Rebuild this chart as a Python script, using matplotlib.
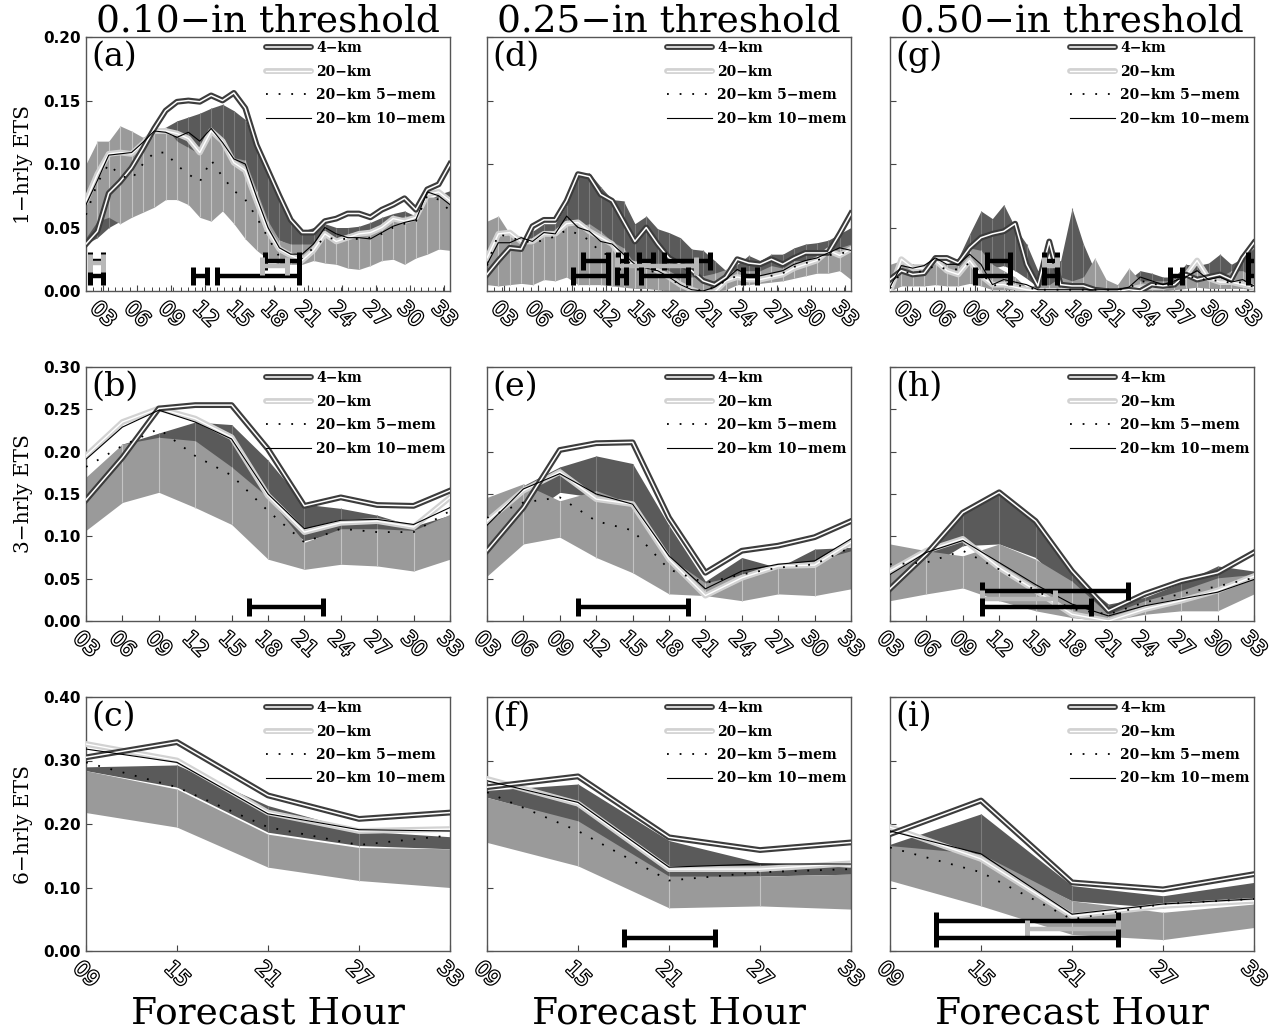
import numpy as np
import matplotlib
matplotlib.use('Agg')
import matplotlib.pyplot as plt
import matplotlib.patheffects as pe
from matplotlib.ticker import FixedLocator, FormatStrFormatter
from matplotlib.legend_handler import HandlerTuple
from matplotlib.lines import Line2D

# ---------------- x positions ----------------
HOURS_1H = np.arange(1.5, 34.0, 1.0)          # 33 hourly points
HOURS_3H = [3, 6, 9, 12, 15, 18, 21, 24, 27, 30, 33]
HOURS_6H = [9, 15, 21, 27, 33]

COL_TITLES = ['0.10\u2212in threshold', '0.25\u2212in threshold', '0.50\u2212in threshold']
ROW_LABELS = ['1\u2212hrly ETS', '3\u2212hrly ETS', '6\u2212hrly ETS']
LEGEND_LABELS = ['4\u2212km', '20\u2212km', '20\u2212km 5\u2212mem', '20\u2212km 10\u2212mem']
LETTERS = [['a', 'd', 'g'], ['b', 'e', 'h'], ['c', 'f', 'i']]

# ---------------- (a) 1-h, 0.10 in ----------------
A_4KM = [0.037, 0.047, 0.077, 0.086, 0.097, 0.112, 0.128, 0.142, 0.149, 0.150, 0.149, 0.154, 0.150, 0.156, 0.144, 0.115, 0.095,
         0.075, 0.056, 0.046, 0.046, 0.055, 0.057, 0.061, 0.061, 0.058, 0.064, 0.068, 0.073, 0.064, 0.080, 0.084, 0.100]
A_20KM = [0.071, 0.092, 0.108, 0.109, 0.108, 0.116, 0.126, 0.126, 0.124, 0.120, 0.109, 0.126, 0.118, 0.101, 0.095, 0.071, 0.047,
          0.033, 0.028, 0.024, 0.032, 0.045, 0.039, 0.042, 0.045, 0.046, 0.050, 0.057, 0.055, 0.058, 0.076, 0.078, 0.071]
A_10MEM = [0.068, 0.087, 0.107, 0.108, 0.109, 0.117, 0.126, 0.125, 0.121, 0.125, 0.118, 0.128, 0.117, 0.104, 0.100, 0.074, 0.050,
           0.034, 0.029, 0.029, 0.037, 0.050, 0.045, 0.042, 0.042, 0.041, 0.046, 0.051, 0.054, 0.056, 0.078, 0.075, 0.068]
A_5MEM = [0.060, 0.085, 0.100, 0.091, 0.088, 0.100, 0.109, 0.109, 0.099, 0.092, 0.086, 0.103, 0.090, 0.079, 0.072, 0.058, 0.042,
          0.027, 0.024, 0.026, 0.034, 0.042, 0.041, 0.041, 0.041, 0.042, 0.045, 0.050, 0.053, 0.055, 0.075, 0.072, 0.063]
A_DARK_HI = [0.058, 0.068, 0.082, 0.089, 0.097, 0.111, 0.118, 0.129, 0.134, 0.137, 0.140, 0.144, 0.147, 0.142, 0.135, 0.115, 0.092,
             0.074, 0.055, 0.047, 0.050, 0.053, 0.050, 0.050, 0.051, 0.054, 0.058, 0.061, 0.063, 0.059, 0.071, 0.076, 0.079]
A_DARK_LO = [0.037, 0.042, 0.050, 0.055, 0.063, 0.071, 0.079, 0.089, 0.097, 0.100, 0.100, 0.103, 0.108, 0.103, 0.095, 0.075, 0.052,
             0.040, 0.036, 0.034, 0.037, 0.040, 0.038, 0.037, 0.037, 0.038, 0.041, 0.045, 0.047, 0.045, 0.053, 0.058, 0.058]
A_LITE_HI = [0.100, 0.118, 0.118, 0.130, 0.126, 0.121, 0.126, 0.129, 0.118, 0.113, 0.108, 0.129, 0.118, 0.105, 0.103, 0.079, 0.055,
             0.040, 0.037, 0.037, 0.037, 0.047, 0.042, 0.045, 0.047, 0.047, 0.050, 0.055, 0.059, 0.059, 0.074, 0.074, 0.071]
A_LITE_LO = [0.042, 0.055, 0.058, 0.053, 0.058, 0.062, 0.066, 0.072, 0.072, 0.068, 0.058, 0.055, 0.063, 0.053, 0.041, 0.032, 0.025,
             0.021, 0.021, 0.021, 0.024, 0.022, 0.021, 0.018, 0.017, 0.020, 0.024, 0.025, 0.021, 0.026, 0.029, 0.033, 0.032]
A_SIG = [(1.85, 3.0, 0.012, 'k'), (10.9, 12.1, 0.012, 'k'), (13.0, 20.2, 0.012, 'k'),
         (1.85, 3.0, 0.024, 'k'), (1.85, 3.0, 0.022, 'g'), (17.25, 20.2, 0.024, 'k'), (16.95, 19.15, 0.020, 'g')]

# ---------------- (d) 1-h, 0.25 in ----------------
D_4KM = [0.013, 0.024, 0.034, 0.033, 0.051, 0.056, 0.056, 0.071, 0.092, 0.090, 0.076, 0.071, 0.055, 0.039, 0.050, 0.037, 0.026,
         0.021, 0.016, 0.008, 0.005, 0.011, 0.025, 0.022, 0.021, 0.025, 0.021, 0.026, 0.030, 0.030, 0.030, 0.045, 0.061]
D_20KM = [0.026, 0.045, 0.046, 0.039, 0.039, 0.045, 0.045, 0.053, 0.054, 0.047, 0.042, 0.037, 0.024, 0.021, 0.021, 0.016, 0.011,
          0.005, 0.001, -0.002, -0.001, 0.008, 0.011, 0.009, 0.009, 0.011, 0.013, 0.018, 0.021, 0.024, 0.032, 0.028, 0.033]
D_10MEM = [0.021, 0.038, 0.038, 0.042, 0.039, 0.046, 0.045, 0.059, 0.050, 0.047, 0.039, 0.037, 0.029, 0.021, 0.018, 0.016, 0.011,
           0.005, 0.001, 0.000, 0.003, 0.009, 0.017, 0.012, 0.012, 0.014, 0.016, 0.021, 0.024, 0.026, 0.030, 0.034, 0.032]
D_5MEM = [0.020, 0.045, 0.042, 0.040, 0.038, 0.040, 0.043, 0.048, 0.045, 0.040, 0.030, 0.028, 0.025, 0.020, 0.017, 0.014, 0.010,
          0.005, 0.002, 0.000, 0.003, 0.008, 0.012, 0.011, 0.011, 0.012, 0.014, 0.019, 0.022, 0.024, 0.028, 0.030, 0.030]
D_DARK_HI = [0.021, 0.032, 0.037, 0.040, 0.047, 0.053, 0.053, 0.068, 0.092, 0.093, 0.082, 0.072, 0.071, 0.053, 0.059, 0.049, 0.046,
             0.042, 0.033, 0.032, 0.024, 0.016, 0.021, 0.028, 0.024, 0.029, 0.029, 0.034, 0.037, 0.038, 0.040, 0.045, 0.050]
D_DARK_LO = [0.005, 0.010, 0.014, 0.016, 0.020, 0.022, 0.024, 0.030, 0.045, 0.048, 0.042, 0.036, 0.030, 0.022, 0.020, 0.016, 0.010,
             0.006, 0.004, 0.003, 0.002, 0.004, 0.008, 0.010, 0.010, 0.012, 0.013, 0.015, 0.017, 0.018, 0.020, 0.022, 0.025]
D_LITE_HI = [0.055, 0.059, 0.045, 0.043, 0.037, 0.047, 0.043, 0.053, 0.051, 0.053, 0.047, 0.039, 0.034, 0.021, 0.021, 0.021, 0.016,
             0.011, 0.011, 0.012, 0.014, 0.017, 0.016, 0.016, 0.016, 0.020, 0.018, 0.024, 0.024, 0.028, 0.029, 0.034, 0.037]
D_LITE_LO = [0.005, 0.004, 0.005, 0.006, 0.005, 0.009, 0.008, 0.011, 0.005, 0.005, 0.005, 0.004, 0.003, 0.002, 0.002, 0.001, 0.000,
             0.000, 0.000, 0.000, 0.000, 0.001, 0.005, 0.005, 0.006, 0.007, 0.008, 0.010, 0.012, 0.014, 0.014, 0.016, 0.009]
D_SIG = [(9.9, 12.1, 0.024, 'k'), (13.0, 13.7, 0.024, 'k'), (14.9, 16.1, 0.024, 'k'), (17.1, 21.1, 0.024, 'k'),
         (12.9, 19.9, 0.020, 'g'), (9.05, 12.1, 0.012, 'k'), (12.9, 13.7, 0.012, 'k'), (15.0, 19.2, 0.012, 'k'),
         (24.0, 25.2, 0.012, 'k')]

# ---------------- (g) 1-h, 0.50 in ----------------
G_4KM = [0.009, 0.016, 0.013, 0.014, 0.026, 0.026, 0.022, 0.034, 0.042, 0.045, 0.047, 0.053, 0.021, 0.004, 0.039, 0.005, 0.004,
         0.004, 0.001, 0.000, 0.000, 0.001, 0.000, 0.005, 0.004, 0.005, 0.013, 0.009, 0.011, 0.013, 0.009, 0.026, 0.038]
G_20KM = [0.000, 0.025, 0.018, 0.018, 0.024, 0.016, 0.013, 0.024, 0.012, 0.005, 0.005, 0.003, 0.001, 0.000, 0.000, 0.000, 0.000,
          0.000, 0.000, 0.000, 0.000, 0.001, 0.003, 0.003, 0.003, 0.006, 0.012, 0.024, 0.010, 0.007, 0.007, 0.005, 0.003]
G_10MEM = [0.003, 0.020, 0.018, 0.020, 0.026, 0.021, 0.021, 0.029, 0.021, 0.005, 0.009, 0.007, 0.005, 0.001, 0.001, 0.001, 0.001,
           0.001, 0.001, 0.001, 0.001, 0.003, 0.011, 0.008, 0.005, 0.008, 0.011, 0.016, 0.009, 0.011, 0.007, 0.009, 0.004]
G_5MEM = [0.002, 0.015, 0.014, 0.016, 0.020, 0.017, 0.017, 0.022, 0.015, 0.004, 0.006, 0.005, 0.003, 0.001, 0.001, 0.001, 0.001,
          0.001, 0.001, 0.001, 0.001, 0.002, 0.008, 0.006, 0.004, 0.006, 0.009, 0.012, 0.007, 0.009, 0.006, 0.007, 0.003]
G_DARK_HI = [0.016, 0.021, 0.021, 0.021, 0.024, 0.021, 0.026, 0.045, 0.063, 0.057, 0.068, 0.050, 0.037, 0.016, 0.021, 0.024, 0.065,
             0.037, 0.016, 0.005, 0.005, 0.009, 0.016, 0.014, 0.011, 0.011, 0.021, 0.020, 0.022, 0.029, 0.021, 0.026, 0.034]
G_DARK_LO = [0.003, 0.005, 0.006, 0.006, 0.008, 0.008, 0.009, 0.012, 0.016, 0.018, 0.020, 0.016, 0.010, 0.003, 0.004, 0.003, 0.005,
             0.004, 0.002, 0.001, 0.001, 0.001, 0.002, 0.002, 0.002, 0.002, 0.004, 0.004, 0.004, 0.005, 0.004, 0.005, 0.008]
G_LITE_HI = [0.021, 0.024, 0.021, 0.021, 0.024, 0.021, 0.024, 0.034, 0.032, 0.021, 0.016, 0.011, 0.003, 0.005, 0.005, 0.011, 0.008,
             0.011, 0.026, 0.009, 0.005, 0.018, 0.008, 0.008, 0.008, 0.008, 0.011, 0.016, 0.013, 0.011, 0.016, 0.016, 0.011]
G_LITE_LO = [0.000, 0.004, 0.004, 0.004, 0.005, 0.004, 0.004, 0.006, 0.004, 0.001, 0.001, 0.001, 0.000, 0.000, 0.000, 0.000, 0.000,
             0.000, 0.001, 0.000, 0.000, 0.001, 0.000, 0.000, 0.000, 0.001, 0.002, 0.003, 0.002, 0.002, 0.002, 0.002, 0.001]
G_SIG = [(10.06, 12.06, 0.024, 'k'), (15.0, 16.16, 0.024, 'k'), (15.0, 16.16, 0.020, 'g'), (33.0, 34.0, 0.024, 'k'),
         (8.98, 12.06, 0.012, 'k'), (15.0, 16.16, 0.012, 'k'), (26.1, 27.2, 0.012, 'k'), (33.0, 34.0, 0.012, 'k')]

# ---------------- (b) 3-h, 0.10 in ----------------
B_4KM = [0.143, 0.193, 0.251, 0.255, 0.255, 0.203, 0.136, 0.146, 0.137, 0.136, 0.154]
B_20KM = [0.195, 0.235, 0.251, 0.239, 0.217, 0.148, 0.105, 0.116, 0.118, 0.111, 0.146]
B_10MEM = [0.191, 0.229, 0.249, 0.235, 0.215, 0.150, 0.109, 0.119, 0.120, 0.114, 0.134]
B_5MEM = [0.182, 0.207, 0.227, 0.195, 0.172, 0.130, 0.093, 0.109, 0.105, 0.105, 0.130]
B_DARK_HI = [0.166, 0.209, 0.222, 0.235, 0.232, 0.190, 0.138, 0.133, 0.125, 0.112, 0.125]
B_DARK_LO = [0.108, 0.150, 0.195, 0.190, 0.160, 0.125, 0.095, 0.105, 0.102, 0.100, 0.118]
B_LITE_HI = [0.170, 0.209, 0.217, 0.213, 0.182, 0.146, 0.093, 0.109, 0.109, 0.107, 0.126]
B_LITE_LO = [0.107, 0.140, 0.152, 0.134, 0.114, 0.073, 0.061, 0.067, 0.065, 0.059, 0.073]
B_SIG = [(16.46, 22.5, 0.016, 'k')]

# ---------------- (e) 3-h, 0.25 in ----------------
E_4KM = [0.083, 0.134, 0.202, 0.210, 0.211, 0.122, 0.057, 0.083, 0.089, 0.099, 0.118]
E_20KM = [0.118, 0.154, 0.176, 0.144, 0.138, 0.073, 0.030, 0.051, 0.065, 0.066, 0.093]
E_10MEM = [0.113, 0.156, 0.174, 0.150, 0.138, 0.077, 0.038, 0.059, 0.067, 0.071, 0.097]
E_5MEM = [0.122, 0.140, 0.146, 0.118, 0.107, 0.061, 0.045, 0.055, 0.063, 0.067, 0.087]
E_DARK_HI = [0.140, 0.160, 0.182, 0.195, 0.186, 0.113, 0.047, 0.075, 0.063, 0.085, 0.087]
E_DARK_LO = [0.090, 0.122, 0.152, 0.146, 0.118, 0.067, 0.036, 0.047, 0.059, 0.067, 0.079]
E_LITE_HI = [0.146, 0.162, 0.142, 0.154, 0.138, 0.075, 0.045, 0.055, 0.067, 0.071, 0.083]
E_LITE_LO = [0.053, 0.091, 0.099, 0.075, 0.057, 0.032, 0.030, 0.024, 0.032, 0.030, 0.038]
E_SIG = [(10.5, 19.55, 0.016, 'k')]

# ---------------- (h) 3-h, 0.50 in ----------------
H_4KM = [0.038, 0.079, 0.128, 0.152, 0.118, 0.059, 0.012, 0.032, 0.047, 0.057, 0.081]
H_20KM = [0.059, 0.083, 0.097, 0.063, 0.036, 0.008, 0.000, 0.014, 0.024, 0.036, 0.053]
H_10MEM = [0.055, 0.081, 0.095, 0.069, 0.043, 0.020, 0.006, 0.018, 0.026, 0.034, 0.049]
H_5MEM = [0.067, 0.069, 0.083, 0.061, 0.036, 0.014, 0.008, 0.022, 0.032, 0.041, 0.051]
H_DARK_HI = [0.040, 0.079, 0.126, 0.150, 0.116, 0.055, 0.020, 0.028, 0.045, 0.065, 0.059]
H_DARK_LO = [0.032, 0.063, 0.089, 0.091, 0.075, 0.032, 0.006, 0.018, 0.032, 0.041, 0.047]
H_LITE_HI = [0.091, 0.083, 0.077, 0.091, 0.073, 0.047, 0.008, 0.024, 0.036, 0.051, 0.055]
H_LITE_LO = [0.024, 0.032, 0.039, 0.024, 0.012, 0.004, 0.000, 0.008, 0.012, 0.012, 0.032]
H_SIG = [(10.55, 22.64, 0.036, 'k'), (10.55, 16.6, 0.026, 'g'), (10.55, 19.6, 0.016, 'k')]

# ---------------- (c) 6-h, 0.10 in ----------------
C_4KM = [0.305, 0.329, 0.245, 0.208, 0.218]
C_20KM = [0.326, 0.300, 0.218, 0.189, 0.192]
C_10MEM = [0.318, 0.297, 0.216, 0.191, 0.189]
C_5MEM = [0.297, 0.258, 0.195, 0.167, 0.182]
C_DARK_HI = [0.290, 0.293, 0.229, 0.189, 0.180]
C_DARK_LO = [0.284, 0.258, 0.187, 0.166, 0.161]
C_LITE_HI = [0.284, 0.255, 0.184, 0.163, 0.161]
C_LITE_LO = [0.218, 0.195, 0.132, 0.111, 0.100]
C_SIG = []

# ---------------- (f) 6-h, 0.25 in ----------------
F_4KM = [0.258, 0.275, 0.179, 0.159, 0.171]
F_20KM = [0.271, 0.232, 0.129, 0.129, 0.138]
F_10MEM = [0.268, 0.234, 0.132, 0.137, 0.137]
F_5MEM = [0.250, 0.189, 0.111, 0.124, 0.129]
F_DARK_HI = [0.253, 0.263, 0.174, 0.139, 0.132]
F_DARK_LO = [0.242, 0.203, 0.116, 0.118, 0.121]
F_LITE_HI = [0.242, 0.205, 0.118, 0.118, 0.121]
F_LITE_LO = [0.171, 0.134, 0.068, 0.071, 0.066]
F_SIG = [(18.0, 24.06, 0.021, 'k')]

# ---------------- (i) 6-h, 0.50 in ----------------
I_4KM = [0.184, 0.237, 0.108, 0.097, 0.121]
I_20KM = [0.195, 0.145, 0.055, 0.071, 0.079]
I_10MEM = [0.189, 0.153, 0.058, 0.074, 0.082]
I_5MEM = [0.163, 0.124, 0.050, 0.074, 0.082]
I_DARK_HI = [0.168, 0.216, 0.103, 0.087, 0.108]
I_DARK_LO = [0.163, 0.147, 0.079, 0.068, 0.082]
I_LITE_HI = [0.166, 0.153, 0.079, 0.061, 0.074]
I_LITE_LO = [0.111, 0.071, 0.026, 0.018, 0.037]
I_SIG = [(12.0, 24.05, 0.047, 'k'), (18.0, 24.05, 0.034, 'g'), (12.0, 24.05, 0.021, 'k')]

PANELS = [
    [(A_4KM, A_20KM, A_5MEM, A_10MEM, A_DARK_HI, A_DARK_LO, A_LITE_HI, A_LITE_LO, A_SIG),
     (D_4KM, D_20KM, D_5MEM, D_10MEM, D_DARK_HI, D_DARK_LO, D_LITE_HI, D_LITE_LO, D_SIG),
     (G_4KM, G_20KM, G_5MEM, G_10MEM, G_DARK_HI, G_DARK_LO, G_LITE_HI, G_LITE_LO, G_SIG)],
    [(B_4KM, B_20KM, B_5MEM, B_10MEM, B_DARK_HI, B_DARK_LO, B_LITE_HI, B_LITE_LO, B_SIG),
     (E_4KM, E_20KM, E_5MEM, E_10MEM, E_DARK_HI, E_DARK_LO, E_LITE_HI, E_LITE_LO, E_SIG),
     (H_4KM, H_20KM, H_5MEM, H_10MEM, H_DARK_HI, H_DARK_LO, H_LITE_HI, H_LITE_LO, H_SIG)],
    [(C_4KM, C_20KM, C_5MEM, C_10MEM, C_DARK_HI, C_DARK_LO, C_LITE_HI, C_LITE_LO, C_SIG),
     (F_4KM, F_20KM, F_5MEM, F_10MEM, F_DARK_HI, F_DARK_LO, F_LITE_HI, F_LITE_LO, F_SIG),
     (I_4KM, I_20KM, I_5MEM, I_10MEM, I_DARK_HI, I_DARK_LO, I_LITE_HI, I_LITE_LO, I_SIG)],
]

ROW_X = [HOURS_1H, HOURS_3H, HOURS_6H]
ROW_XLIM = [(1.5, 33.5), (3, 33), (9, 33)]
ROW_XTICKS = [HOURS_3H, HOURS_3H, HOURS_6H]
ROW_YTICKS = [[0.0, 0.05, 0.10, 0.15, 0.20],
              [0.0, 0.05, 0.10, 0.15, 0.20, 0.25, 0.30],
              [0.0, 0.10, 0.20, 0.30, 0.40]]

# ---------------- style ----------------
DARK = '#5a5a5a'
DARK_EDGE = '#7c7c7c'
LIGHT = '#9a9a9a'
LIGHT_EDGE = '#c4c4c4'
C4 = '#3c3c3c'
C20 = '#d2d2d2'
SIG_GRAY = '#b8b8b8'
SERIF = 'DejaVu Serif'
HOLLOW = [pe.withStroke(linewidth=1.8, foreground='black')]

W, H = 1274, 1032
COL_LEFT = [86, 487, 890]
ROW_TOP = [37, 367, 697]
AX_W, AX_H = 364, 254

fig = plt.figure(figsize=(W / 100, H / 100), dpi=100)

for r in range(3):
    x = np.asarray(ROW_X[r], dtype=float)
    for c in range(3):
        s4, s20, s5, s10, dhi, dlo, lhi, llo, sig = PANELS[r][c]
        ax = fig.add_axes([COL_LEFT[c] / W, 1 - (ROW_TOP[r] + AX_H) / H, AX_W / W, AX_H / H])
        dhi, dlo, lhi, llo = map(np.asarray, (dhi, dlo, lhi, llo))

        ax.fill_between(x, dlo, dhi, color=DARK, lw=0, zorder=1)
        ax.vlines(x[1:-1], dlo[1:-1], dhi[1:-1], color=DARK_EDGE, lw=0.8, zorder=1.1)
        ax.fill_between(x, llo, lhi, color=LIGHT, lw=0, zorder=2)
        ax.vlines(x[1:-1], llo[1:-1], lhi[1:-1], color=LIGHT_EDGE, lw=0.8, zorder=2.1)

        ax.plot(x, s20, color=C20, lw=4.2, zorder=3, solid_joinstyle='round')
        ax.plot(x, s20, color='white', lw=1.0, zorder=3.1)
        ax.plot(x, s4, color=C4, lw=4.2, zorder=4, solid_joinstyle='round')
        ax.plot(x, s4, color='white', lw=1.1, zorder=4.1)
        ax.plot(x, s10, color='black', lw=0.8, zorder=5)
        ax.plot(x, s5, color='black', lw=1.3, ls=(0, (1, 6)), zorder=5)

        for x0, x1, y, shade in sig:
            col = 'black' if shade == 'k' else SIG_GRAY
            ax.plot([x0, x1], [y, y], color=col, lw=3.2, solid_capstyle='butt', zorder=6)
            ax.plot([x0, x1], [y, y], ls='none', marker='|', ms=13, mew=3.6, color=col, zorder=6)

        ax.set_xlim(*ROW_XLIM[r])
        ax.set_ylim(ROW_YTICKS[r][0], ROW_YTICKS[r][-1])
        ax.set_xticks(ROW_XTICKS[r])
        ax.set_xticklabels(['%02d' % t for t in ROW_XTICKS[r]], rotation=-45, ha='center', va='top',
                           fontsize=15, color='white')
        for lab in ax.get_xticklabels():
            lab.set_path_effects(HOLLOW)
        if r == 0:
            ax.xaxis.set_minor_locator(FixedLocator(np.linspace(1.5, 33.5, 51)))
        ax.set_yticks(ROW_YTICKS[r])
        ax.yaxis.set_major_formatter(FormatStrFormatter('%.2f'))
        ax.tick_params(axis='both', which='major', direction='in', length=4, width=0.8, color='#444444')
        ax.tick_params(axis='both', which='minor', direction='in', length=3, width=0.7, color='#444444')
        ax.tick_params(axis='x', pad=5)
        ax.tick_params(axis='y', pad=4, labelsize=11)
        if c == 0:
            for lab in ax.get_yticklabels():
                lab.set_fontweight('bold')
        else:
            ax.tick_params(axis='y', labelleft=False)
        for sp in ax.spines.values():
            sp.set_color('#555555')
            sp.set_linewidth(1.0)

        ax.text(0.015, 0.985, '(%s)' % LETTERS[r][c], transform=ax.transAxes, ha='left', va='top',
                fontsize=24, family=SERIF, zorder=12)

        h4 = (Line2D([], [], color=C4, lw=4.2, solid_capstyle='round'), Line2D([], [], color='white', lw=1.1))
        h20 = (Line2D([], [], color=C20, lw=4.2, solid_capstyle='round'), Line2D([], [], color='white', lw=1.0))
        h5 = Line2D([], [], color='black', lw=1.3, ls=(0, (1, 6)))
        h10 = Line2D([], [], color='black', lw=0.8)
        leg = ax.legend([h4, h20, h5, h10], LEGEND_LABELS, loc='upper right', frameon=False,
                        handlelength=3.2, handletextpad=0.4, labelspacing=0.68, borderaxespad=0.2,
                        borderpad=0.1, prop={'family': SERIF, 'weight': 'bold', 'size': 10},
                        handler_map={tuple: HandlerTuple(ndivide=1)})
        leg.set_zorder(11)

# column titles and x labels
for c in range(3):
    cx = (COL_LEFT[c] + AX_W / 2) / W
    fig.text(cx, 1 - 21 / H, COL_TITLES[c], ha='center', va='center', fontsize=27, family=SERIF)
    fig.text(cx, 1 - 1013 / H, 'Forecast Hour', ha='center', va='center', fontsize=27, family=SERIF)

# row labels
for r in range(3):
    cy = 1 - (ROW_TOP[r] + AX_H / 2) / H
    fig.text(24 / W, cy, ROW_LABELS[r], rotation=90, ha='center', va='center', fontsize=14.5, family=SERIF)

fig.savefig('out.png', dpi=100)
